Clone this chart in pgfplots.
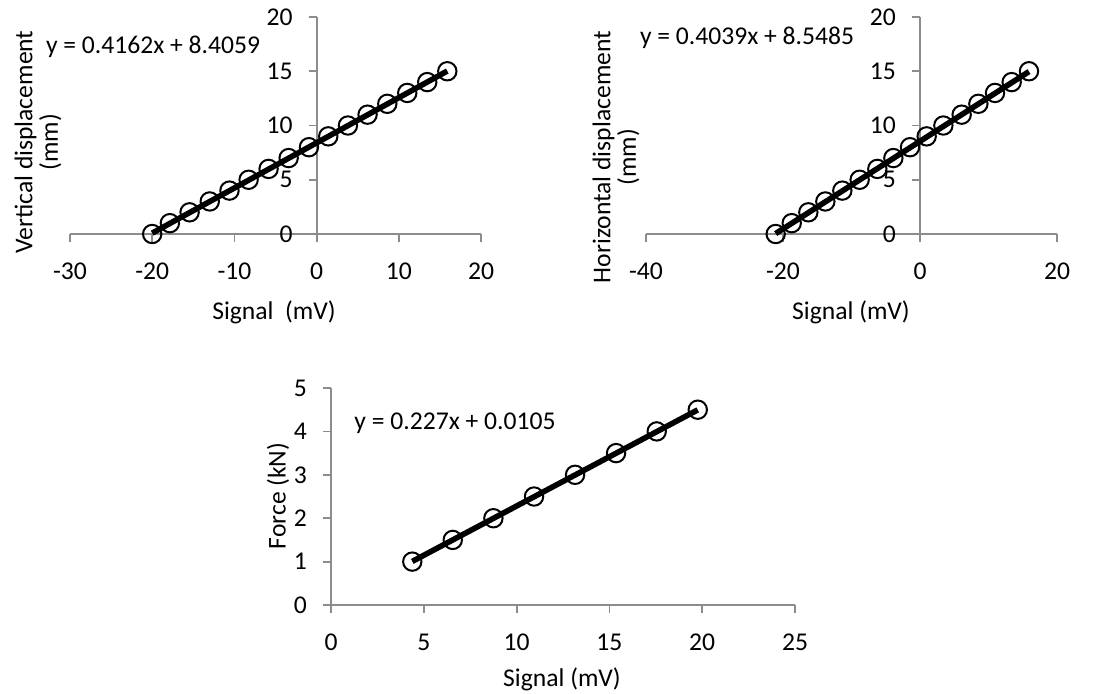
\documentclass[border=0pt]{standalone}
\usepackage{fontspec}
\setmainfont{Carlito}
\usepackage{pgfplots}
\pgfplotsset{compat=1.18}
\definecolor{axgray}{HTML}{8C8C8C}

\pgfplotsset{
 excel/.style={
  scale only axis,
  width=205.5pt, height=108.5pt,
  axis line style={axgray, line width=0.9pt},
  every tick/.style={axgray, line width=0.9pt},
  major tick length=4pt,
  ticklabel style={font=\fontsize{12.8}{14}\selectfont, text=black},
  hide obscured x ticks=false, hide obscured y ticks=false,
  clip=false,
 },
 excelticks/.style={
  tick align=outside,
  xticklabel style={yshift=-7pt},
  yticklabel style={xshift=-4.5pt},
 },
 datastyle/.style={only marks, mark=o, mark size=4.6pt, mark options={black, line width=1pt, fill=none}},
 fitstyle/.style={black, line width=2.8pt, no marks},
}

\begin{document}
\begin{tikzpicture}[x=1pt,y=1pt]
\path[use as bounding box] (0,0) rectangle (550.5,346.5);

% ---------- top-left ----------
\begin{axis}[excel, at={(35pt,229.5pt)}, anchor=south west,
  xmin=-30, xmax=20, ymin=0, ymax=20,
  axis x line*=bottom, axis y line*=middle, excelticks,
  xtick={-30,-20,-10,0,10,20}, xticklabels={-30,-20,-10,0,10,20},
  ytick={0,5,10,15,20}, yticklabels={0,5,10,15,20}]
\addplot[datastyle] coordinates {
(-20.0,0) (-17.85,1) (-15.45,2) (-13.0,3) (-10.6,4) (-8.27,5) (-5.84,6) (-3.4,7)
(-0.93,8) (1.42,9) (3.81,10) (6.2,11) (8.6,12) (11.03,13) (13.46,14) (15.9,15)};
\addplot[fitstyle] coordinates {(-20.0,0.08) (15.9,15.02)};
\end{axis}

% ---------- top-right ----------
\begin{axis}[excel, at={(323pt,229.5pt)}, anchor=south west,
  xmin=-40, xmax=20, ymin=0, ymax=20,
  axis x line*=bottom, axis y line*=middle, excelticks,
  xtick={-40,-20,0,20}, xticklabels={-40,-20,0,20},
  ytick={0,5,10,15,20}, yticklabels={0,5,10,15,20}]
\addplot[datastyle] coordinates {
(-21.07,0) (-18.73,1) (-16.3,2) (-13.82,3) (-11.34,4) (-8.81,5) (-6.23,6) (-3.89,7)
(-1.46,8) (0.97,9) (3.41,10) (6.08,11) (8.52,12) (10.95,13) (13.38,14) (15.91,15)};
\addplot[fitstyle] coordinates {(-21.07,0.04) (15.91,14.97)};
\end{axis}

% ---------- bottom ----------
\begin{axis}[excel, at={(165.5pt,44pt)}, anchor=south west,
  width=232pt,
  xmin=0, xmax=25, ymin=0, ymax=5,
  axis x line*=bottom, axis y line*=left, excelticks,
  xtick={0,5,10,15,20,25}, xticklabels={0,5,10,15,20,25},
  ytick={0,1,2,3,4,5}, yticklabels={0,1,2,3,4,5}]
\addplot[datastyle] coordinates {
(4.38,1) (6.56,1.5) (8.75,2) (10.94,2.5) (13.15,3) (15.36,3.5) (17.55,4) (19.76,4.5)};
\addplot[fitstyle] coordinates {(4.38,1.005) (19.76,4.496)};
\end{axis}

% ---------- labels ----------
\begin{scope}[every node/.style={font=\fontsize{12.8}{12.8}\selectfont, inner sep=0pt}]
\node[rotate=90, align=center] at (19,275.5) {Vertical displacement\\(mm)};
\node[rotate=90, align=center] at (308,268) {Horizontal displacement\\(mm)};
\node[rotate=90] at (139,98.5) {Force (kN)};
\node at (137,190.5) {Signal\ \ (mV)};
\node at (425.5,190.5) {Signal (mV)};
\node at (281,7) {Signal (mV)};
\node at (76.5,323) {y = 0.4162x + 8.4059};
\node at (373.5,327.5) {y = 0.4039x + 8.5485};
\node at (227.5,135) {y = 0.227x + 0.0105};
\end{scope}
\end{tikzpicture}
\end{document}
